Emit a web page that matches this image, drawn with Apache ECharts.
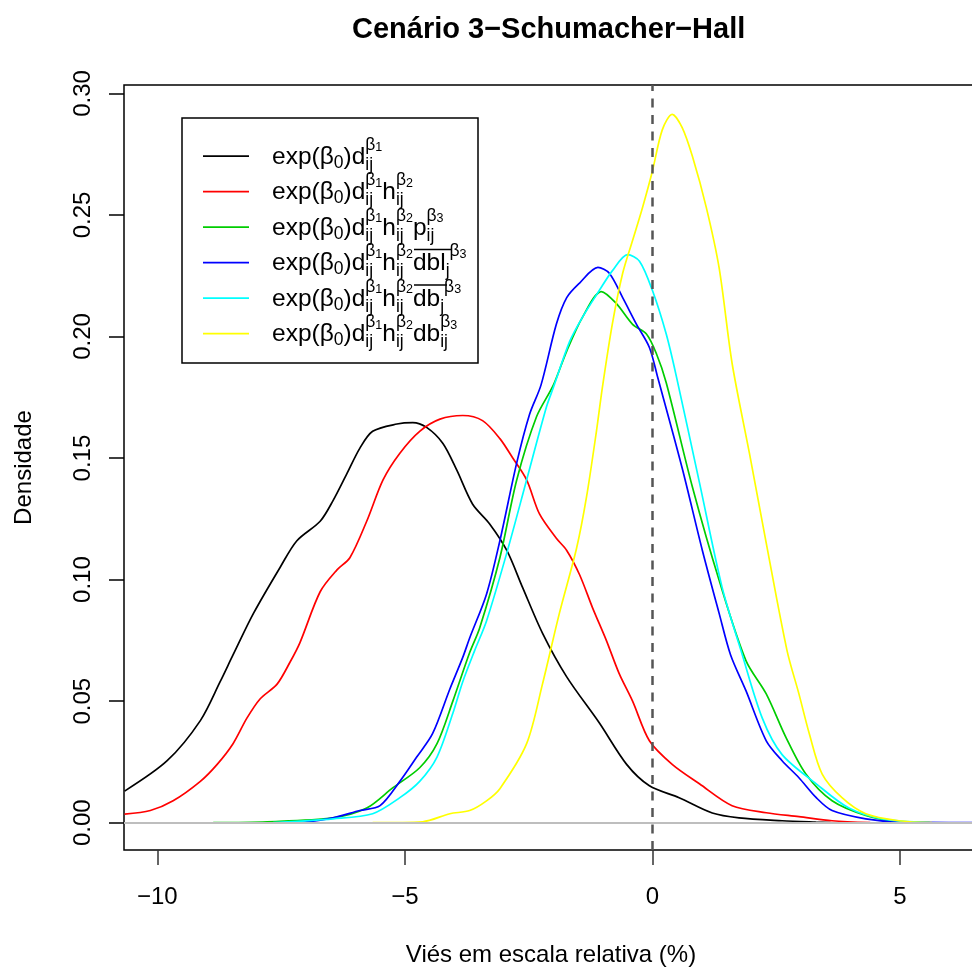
<!DOCTYPE html>
<html><head><meta charset="utf-8">
<script src="https://cdn.jsdelivr.net/npm/echarts@6/dist/echarts.min.js"></script>
<style>html,body{margin:0;padding:0;background:#fff}#c{width:972px;height:969px}</style>
</head><body><div id="c"></div>
<script>
const F = '"Liberation Sans", Arial, Helvetica, sans-serif';
const titleText = 'Cenário 3−Schumacher−Hall';
const xName = 'Viés em escala relativa (%)';
const yName = 'Densidade';
const xTicks = [-10, -5, 0, 5];
const yTicks = [0, 0.05, 0.10, 0.15, 0.20, 0.25, 0.30];

const seriesNames = [
  'exp(β0)d_ij^β1',
  'exp(β0)d_ij^β1 h_ij^β2',
  'exp(β0)d_ij^β1 h_ij^β2 p_ij^β3',
  'exp(β0)d_ij^β1 h_ij^β2 dbl_j^β3',
  'exp(β0)d_ij^β1 h_ij^β2 db_j^β3',
  'exp(β0)d_ij^β1 h_ij^β2 db_ij^β3'
];
const seriesColors = ['#000000', '#FF0000', '#00CD00', '#0000FF', '#00FFFF', '#FFFF00'];
const base = '{g| }{b|exp(β}{s0|0}{b|)d}{zi|ij}{pb|β}{pn|1}';
const hPart = '{b|h}{zi|ij}{pb|β}{pn|2}';
const legendLabels = [
  base,
  base + hPart,
  base + hPart + '{b|p}{zi|ij}{pb|β}{pn|3}',
  base + hPart + '{b|dbl}{sj|j}{pb|β}{pn|3}',
  base + hPart + '{b|db}{sj|j}{pb|β}{pn|3}',
  base + hPart + '{b|db}{zi|ij}{pb|β}{pn|3}'
];

const dens1 = [[-10.66,0.013],[-9.8,0.0255],[-9.13,0.042],[-8.73,0.058],[-8.47,0.069],[-8.06,0.086],[-7.52,0.105],[-7.18,0.116],[-6.71,0.124],[-6.45,0.1325],[-6.17,0.1436],[-5.91,0.154],[-5.65,0.161],[-5.16,0.164],[-4.84,0.1646],[-4.56,0.1626],[-4.23,0.156],[-3.95,0.145],[-3.63,0.131],[-3.29,0.123],[-2.94,0.112],[-2.62,0.0967],[-2.22,0.078],[-1.73,0.060],[-1.07,0.041],[-0.52,0.024],[-0.06,0.0152],[0.54,0.0103],[1.21,0.004],[1.75,0.002],[2.62,0.0008],[3.3,0.0002],[3.6,0]];
const dens2 = [[-10.66,0.0035],[-10.14,0.005],[-9.68,0.009],[-9.13,0.017],[-8.79,0.024],[-8.47,0.0325],[-8.19,0.043],[-7.92,0.051],[-7.58,0.057],[-7.32,0.066],[-7.12,0.074],[-6.71,0.095],[-6.37,0.104],[-6.11,0.109],[-5.77,0.124],[-5.44,0.141],[-5.1,0.152],[-4.70,0.161],[-4.29,0.166],[-3.83,0.1675],[-3.43,0.1654],[-3.08,0.158],[-2.82,0.150],[-2.54,0.141],[-2.28,0.127],[-1.94,0.117],[-1.73,0.112],[-1.47,0.102],[-1.21,0.0885],[-0.93,0.075],[-0.67,0.0613],[-0.40,0.050],[-0.06,0.0337],[0.40,0.024],[0.95,0.016],[1.61,0.007],[2.30,0.0041],[2.96,0.0025],[3.63,0.0008],[4.4,0]];
const dens3 = [[-8.87,0],[-7.78,0.0004],[-6.45,0.002],[-5.77,0.006],[-5.24,0.0144],[-4.70,0.0226],[-4.35,0.0325],[-4.03,0.050],[-3.69,0.070],[-3.49,0.080],[-3.08,0.109],[-2.74,0.141],[-2.34,0.167],[-2.0,0.180],[-1.73,0.194],[-1.41,0.208],[-1.03,0.2185],[-0.73,0.2136],[-0.40,0.205],[-0.12,0.201],[0.08,0.193],[0.28,0.181],[0.81,0.138],[1.35,0.0996],[1.89,0.0667],[2.30,0.053],[2.70,0.035],[3.10,0.020],[3.63,0.009],[4.31,0.003],[4.98,0.0004],[5.6,0]];
const dens4 = [[-7.1,0],[-6.45,0.002],[-5.91,0.005],[-5.5,0.007],[-5.1,0.017],[-4.76,0.027],[-4.44,0.0366],[-4.09,0.055],[-3.83,0.068],[-3.69,0.076],[-3.35,0.094],[-3.08,0.116],[-2.74,0.148],[-2.48,0.168],[-2.25,0.18],[-1.94,0.205],[-1.73,0.216],[-1.47,0.222],[-1.10,0.2284],[-0.87,0.226],[-0.60,0.216],[-0.32,0.205],[-0.06,0.1955],[0.11,0.183],[0.6,0.146],[1.01,0.112],[1.35,0.086],[1.58,0.069],[1.89,0.0543],[2.30,0.0337],[2.62,0.0255],[2.96,0.0185],[3.31,0.0103],[3.63,0.005],[4.31,0.0016],[4.98,0.0003],[6.6,0]];
const dens5 = [[-7.66,0],[-6.45,0.0016],[-5.65,0.0037],[-5.10,0.0103],[-4.70,0.017],[-4.35,0.027],[-4.03,0.045],[-3.83,0.058],[-3.59,0.0708],[-3.35,0.083],[-2.94,0.111],[-2.54,0.141],[-2.14,0.171],[-2.0,0.179],[-1.67,0.198],[-1.41,0.208],[-1.07,0.219],[-0.81,0.227],[-0.50,0.2337],[-0.26,0.231],[0.0,0.219],[0.28,0.201],[0.48,0.184],[0.95,0.14],[1.41,0.0967],[1.79,0.0708],[2.22,0.043],[2.62,0.028],[3.31,0.016],[3.97,0.006],[4.64,0.0016],[5.6,0]];
const dens6 = [[-5.65,0],[-4.64,0.0004],[-4.09,0.0037],[-3.69,0.005],[-3.35,0.009],[-3.08,0.014],[-2.54,0.0325],[-2.22,0.057],[-1.88,0.086],[-1.53,0.113],[-1.33,0.134],[-1.13,0.161],[-1.01,0.179],[-0.81,0.205],[-0.60,0.226],[-0.40,0.2395],[-0.20,0.253],[0.0,0.268],[0.20,0.285],[0.40,0.2914],[0.60,0.286],[0.81,0.274],[1.09,0.253],[1.35,0.228],[1.61,0.189],[1.96,0.152],[2.30,0.115],[2.72,0.0708],[2.96,0.053],[3.17,0.0366],[3.43,0.020],[3.83,0.0103],[4.31,0.0037],[4.98,0.0008],[5.65,0]];
const allDens = [dens1, dens2, dens3, dens4, dens5, dens6];

const fmtNum = (v, d) => (v < 0 ? '−' : '') + Math.abs(v).toFixed(d);

const chart = echarts.init(document.getElementById('c'), null, {renderer: 'canvas'});
const curveSeries = allDens.map((d, i) => ({
  type: 'line', name: seriesNames[i], data: d, symbol: 'none', showSymbol: false,
  smooth: 0.3, clip: true, z: 3,
  lineStyle: {color: seriesColors[i], width: 1.7}, itemStyle: {color: seriesColors[i]}
}));
const refSeries = {
  type: 'line', name: 'ref', data: [], z: 1, silent: true,
  markLine: {
    symbol: 'none', silent: true, animation: false, label: {show: false},
    data: [
      {yAxis: 0, lineStyle: {color: '#BEBEBE', width: 1.8, type: 'solid'}},
      {xAxis: 0, lineStyle: {color: '#555555', width: 2.5, type: [9, 7.5]}}
    ]
  }
};
// small shifted token: shift > 0 moves down, < 0 moves up
const sub = (fs, shift, extra) => Object.assign({
  fontFamily: F, fontSize: fs, color: '#000', lineHeight: 6, height: 6,
  padding: shift > 0 ? [2 * shift, 0, 0, 0] : [0, 0, -2 * shift, 0]
}, extra || {});
const LH = 33.2;

chart.setOption({
  animation: false,
  backgroundColor: '#ffffff',
  title: {text: titleText, left: 347, top: 10,
    textStyle: {fontFamily: F, fontSize: 29, fontWeight: 'bold', color: '#000'}},
  grid: {left: 124, top: 85, width: 854, height: 765, show: true, outerBoundsMode: 'none',
    borderColor: '#000', borderWidth: 1.5, backgroundColor: 'transparent', containLabel: false},
  xAxis: {
    type: 'value', min: -10.672, max: 6.577,
    axisLine: {show: false, onZero: false}, splitLine: {show: false},
    axisTick: {show: true, customValues: xTicks, length: 15, lineStyle: {color: '#333', width: 1.5}},
    axisLabel: {customValues: xTicks, formatter: v => fmtNum(v, 0), fontFamily: F, fontSize: 24, color: '#000', margin: 35},
    name: xName, nameLocation: 'middle', nameGap: 93,
    nameTextStyle: {fontFamily: F, fontSize: 24, color: '#000'}
  },
  yAxis: {
    type: 'value', min: -0.01123, max: 0.30346,
    axisLine: {show: false, onZero: false}, splitLine: {show: false},
    axisTick: {show: true, customValues: yTicks, length: 15, lineStyle: {color: '#000', width: 1.5}},
    axisLabel: {customValues: yTicks, formatter: v => fmtNum(v, 2), rotate: 90, fontFamily: F, fontSize: 24, color: '#000', margin: 29},
    name: yName, nameLocation: 'middle', nameGap: 88, nameRotate: 90,
    nameTextStyle: {fontFamily: F, fontSize: 24, color: '#000'}
  },
  legend: {
    show: true, orient: 'vertical', left: 203, top: 135.7, padding: 0, itemGap: -2.5,
    itemWidth: 46, itemHeight: 14, selectedMode: false,
    icon: 'path://M0,0H46V1.7H0Z',
    data: seriesNames,
    formatter: name => legendLabels[seriesNames.indexOf(name)],
    textStyle: {
      fontFamily: F, color: '#000', fontSize: 24.5,
      rich: {
        g: {fontFamily: F, fontSize: 24.5, width: 18, lineHeight: LH},
        b: {fontFamily: F, fontSize: 24.5, color: '#000', lineHeight: LH, padding: [2, 0, 0, 0]},
        s0: sub(17.5, 6.5),
        zi: sub(17.5, 8.5, {width: 0}),
        sj: sub(17.5, 8.5),
        pb: sub(17.5, -11.5),
        pn: sub(12.5, -8.5)
      }
    }
  },
  graphic: [
    {type: 'rect', shape: {x: 182, y: 118, width: 296, height: 245}, style: {fill: null, stroke: '#000', lineWidth: 1.5}, z: 10},
    {type: 'line', shape: {x1: 414, y1: 249.5, x2: 452, y2: 249.5}, style: {stroke: '#000', lineWidth: 1.5}, z: 10},
    {type: 'line', shape: {x1: 414, y1: 285, x2: 447, y2: 285}, style: {stroke: '#000', lineWidth: 1.5}, z: 10}
  ],
  series: [refSeries].concat(curveSeries)
});
</script></body></html>
